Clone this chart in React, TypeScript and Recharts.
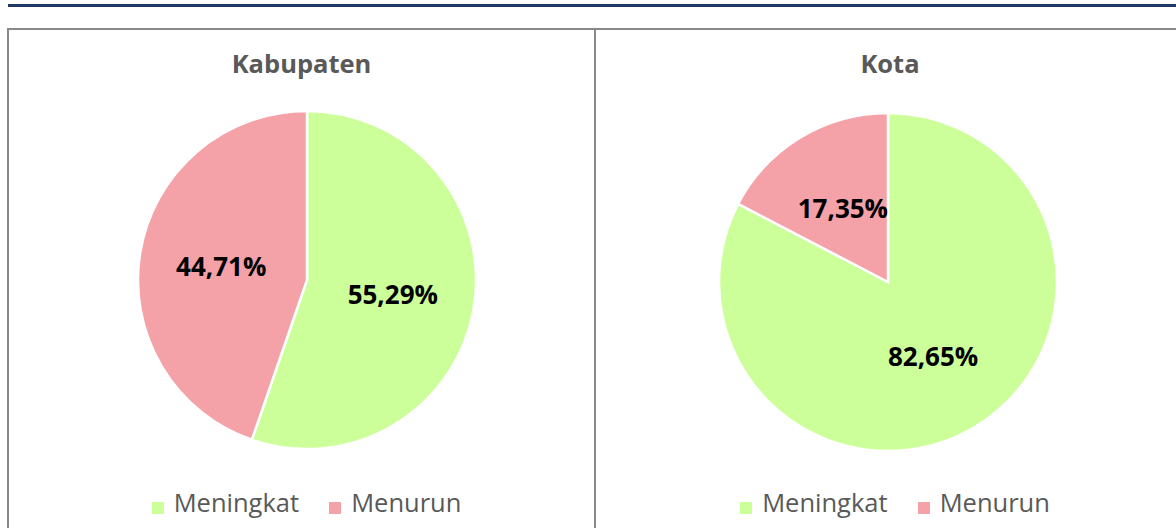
import { PieChart, Pie, Cell, Legend } from 'recharts'

const categories = ['Meningkat', 'Menurun']
const kabupatenValues = [55.29, 44.71]
const kotaValues = [82.65, 17.35]
const colors = ['#CCFF99', '#F4A2A8']

const FONT = '"Open Sans", "Noto Sans", sans-serif'
const RAD = Math.PI / 180

function formatPct(v: number) {
  return `${v.toFixed(2).replace('.', ',')}%`
}

function renderLabel(props: any) {
  const { cx, cy, midAngle, value } = props
  const r = 87
  const x = cx + r * Math.cos(-midAngle * RAD)
  const y = cy + r * Math.sin(-midAngle * RAD)
  return (
    <text
      x={x}
      y={y}
      textAnchor="middle"
      dominantBaseline="central"
      fill="#000"
      fontSize={26}
      fontWeight={700}
      fontFamily={FONT}
    >
      {formatPct(value)}
    </text>
  )
}

interface PanelProps {
  title: string
  values: number[]
  left: number
  width: number
  pieCx: number
  pieCy: number
  legendShift: number
}

function PiePanel({ title, values, left, width, pieCx, pieCy, legendShift }: PanelProps) {
  const data = categories.map((name, i) => ({ name, value: values[i] }))
  return (
    <div
      style={{
        position: 'absolute',
        left,
        top: 28,
        width,
        height: 520,
        border: '2px solid #888',
        boxSizing: 'border-box',
        background: '#fff',
      }}
    >
      <div
        style={{
          position: 'absolute',
          left: 0,
          top: 16,
          width: '100%',
          textAlign: 'center',
          fontFamily: FONT,
          fontWeight: 700,
          fontSize: 25.5,
          color: '#595959',
        }}
      >
        {title}
      </div>
      <PieChart
        width={width - 4}
        height={500}
        margin={{ top: 0, right: 0, bottom: 0, left: 0 }}
        style={{ fontFamily: FONT }}
      >
        <Pie
          data={data}
          dataKey="value"
          nameKey="name"
          cx={pieCx}
          cy={pieCy}
          outerRadius={169}
          startAngle={90}
          endAngle={-270}
          stroke="#fff"
          strokeWidth={2.5}
          label={renderLabel}
          labelLine={false}
          isAnimationActive={false}
        >
          {data.map((d, i) => (
            <Cell key={d.name} fill={colors[i]} />
          ))}
        </Pie>
        <Legend
          iconType="square"
          iconSize={12}
          wrapperStyle={{ top: 455, left: legendShift, width: width - 4 }}
          formatter={(value: string) => (
            <span
              style={{
                color: '#595959',
                fontSize: 25.5,
                fontFamily: FONT,
                marginLeft: 6,
                marginRight: 20,
              }}
            >
              {value}
            </span>
          )}
        />
      </PieChart>
    </div>
  )
}

export default function App() {
  return (
    <div
      style={{
        position: 'fixed',
        left: 0,
        top: 0,
        width: 1176,
        height: 528,
        overflow: 'hidden',
        background: '#fff',
      }}
    >
      <div
        style={{
          position: 'absolute',
          left: 8,
          top: 4,
          width: 1168,
          height: 3,
          background: '#203864',
        }}
      />
      <PiePanel
        title="Kabupaten"
        values={kabupatenValues}
        left={7}
        width={589}
        pieCx={298}
        pieCy={250}
        legendShift={20}
      />
      <PiePanel
        title="Kota"
        values={kotaValues}
        left={594}
        width={592}
        pieCx={292}
        pieCy={252}
        legendShift={20}
      />
    </div>
  )
}
